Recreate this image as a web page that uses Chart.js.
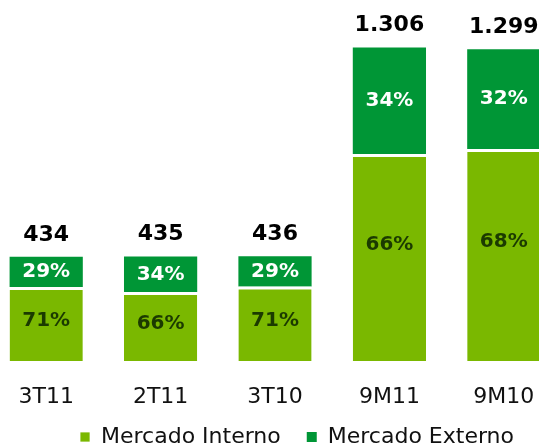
<!DOCTYPE html>
<html>
<head>
<meta charset="utf-8">
<script src="https://cdn.jsdelivr.net/npm/chart.js@4"></script>
<style>
  html, body { margin: 0; padding: 0; background: #fff; overflow: hidden; }
  #wrap { position: absolute; left: -11px; top: 0; width: 616px; height: 448px; }
</style>
</head>
<body>
<div id="wrap"><canvas id="chart" width="616" height="448"></canvas></div>
<script>
/* ── Datos ───────────────────────────────────────────────── */
const LABELS      = ['3T11', '2T11', '3T10', '9M11', '9M10'];
const TOTALS      = ['434', '435', '436', '1.306', '1.299'];
const INTERNO     = [308, 287, 310, 862, 883];
const EXTERNO     = [126, 148, 126, 444, 416];
const PCT_INTERNO = ['71%', '66%', '71%', '66%', '68%'];
const PCT_EXTERNO = ['29%', '34%', '29%', '34%', '32%'];

const VERDE_CLARO  = '#7ab800';
const VERDE_OSCURO = '#009636';
const FONT = "'DejaVu Sans', Verdana, sans-serif";

Chart.defaults.font.family = FONT;
Chart.defaults.color = '#111';

/* ── Etiquetas: totales arriba y porcentajes dentro ──────── */
const barLabels = {
  id: 'barLabels',
  afterInit(chart) {
    // leyenda más baja: altura fija
    const lg = chart.legend;
    const fit = lg.fit.bind(lg);
    lg.fit = function () { fit(); this.height = 48; };
  },
  afterLayout(chart) {
    // que las etiquetas del eje x no se recorten
    chart.scales.x.bottom = chart.height;
  },
  afterDatasetsDraw(chart) {
    const { ctx } = chart;
    const mInt = chart.getDatasetMeta(0).data;
    const mExt = chart.getDatasetMeta(1).data;
    ctx.save();
    ctx.textAlign = 'center';
    ctx.textBaseline = 'middle';
    LABELS.forEach((_, i) => {
      const bi = mInt[i], be = mExt[i];
      const topI = bi.y + 3;
      ctx.font = `bold 20px ${FONT}`;
      ctx.fillStyle = '#1b3a00';
      ctx.fillText(PCT_INTERNO[i], bi.x, topI + 0.43 * (bi.base - topI));
      ctx.fillStyle = '#ffffff';
      ctx.fillText(PCT_EXTERNO[i], be.x, (be.y + be.base) / 2);
      ctx.font = `bold 22px ${FONT}`;
      ctx.fillStyle = '#000';
      ctx.fillText(TOTALS[i], be.x, be.y - 22);
    });
    ctx.restore();
  }
};

new Chart(document.getElementById('chart'), {
  type: 'bar',
  data: {
    labels: LABELS,
    datasets: [
      {
        label: 'Mercado Interno', data: INTERNO,
        backgroundColor: VERDE_CLARO, borderColor: '#ffffff',
        borderWidth: { top: 3, left: 0, right: 0, bottom: 0 },
        categoryPercentage: 0.8, barPercentage: 0.8,
      },
      {
        label: 'Mercado Externo', data: EXTERNO,
        backgroundColor: VERDE_OSCURO, borderWidth: 0,
        categoryPercentage: 0.8, barPercentage: 0.8,
      },
    ],
  },
  options: {
    responsive: false, animation: false, devicePixelRatio: 1,
    layout: { padding: 0 },
    scales: {
      x: {
        stacked: true,
        grid: { display: false, drawTicks: false, tickLength: 0 }, border: { display: false },
        ticks: { font: { size: 22 }, color: '#111', padding: 23 },
        afterFit: s => { s.height = 39; },
      },
      y: {
        stacked: true, position: 'right', min: 0, max: 1504,
        grid: { display: false }, border: { display: false },
        ticks: { display: false },
        afterFit: s => { s.width = 44; },
      },
    },
    plugins: {
      legend: {
        position: 'bottom',
        labels: { boxWidth: 10, boxHeight: 10, padding: 26, font: { size: 22 }, color: '#111' },
      },
      tooltip: { enabled: false },
    },
  },
  plugins: [barLabels],
});
</script>
</body>
</html>
